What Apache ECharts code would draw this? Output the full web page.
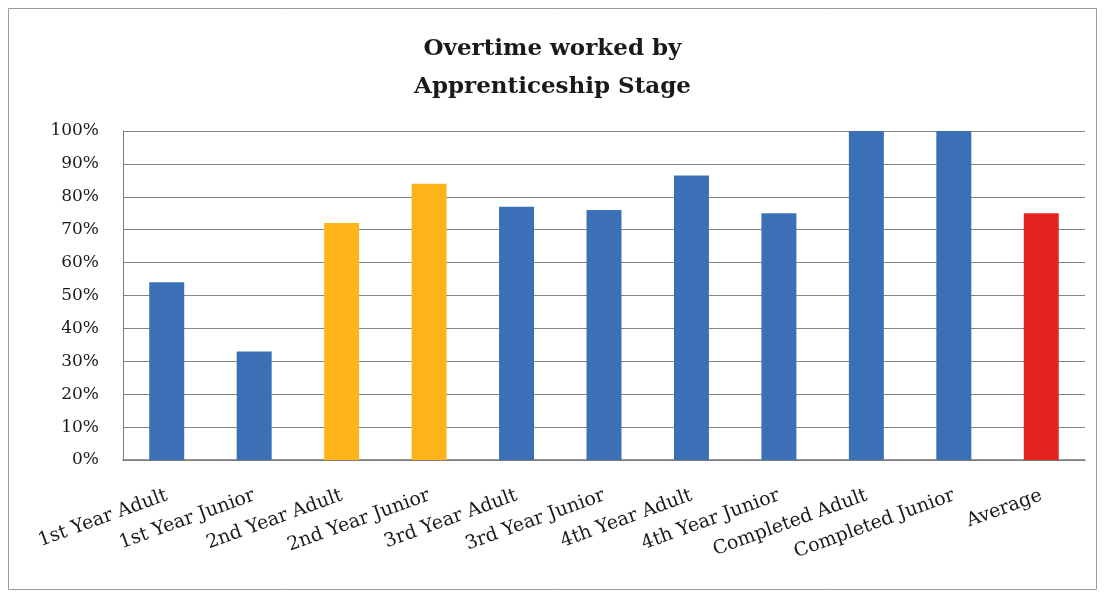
<!DOCTYPE html>
<html>
<head>
<meta charset="utf-8">
<script src="https://cdn.jsdelivr.net/npm/echarts@6/dist/echarts.min.js"></script>
<style>
  html, body { margin: 0; padding: 0; background: #fff; }
  #chart { width: 1105px; height: 593px; }
</style>
</head>
<body>
<div id="chart"></div>
<script>
// Apprenticeship stages shown along the x axis
const stages = [
  '1st Year Adult', '1st Year Junior', '2nd Year Adult', '2nd Year Junior',
  '3rd Year Adult', '3rd Year Junior', '4th Year Adult', '4th Year Junior',
  'Completed Adult', 'Completed Junior', 'Average'
];
// Share of apprentices who worked overtime (%)
const overtimePct = [54, 33, 72, 84, 77, 76, 86.5, 75, 100, 100, 75];
// Bar fill per stage
const barColors = [
  '#3b70b7', '#3b70b7', '#ffb41c', '#ffb41c',
  '#3b70b7', '#3b70b7', '#3b70b7', '#3b70b7',
  '#3b70b7', '#3b70b7', '#e52420'
];

const serif = '"DejaVu Serif", "Liberation Serif", serif';

const chart = echarts.init(document.getElementById('chart'), null, { renderer: 'canvas' });
chart.setOption({
  animation: false,
  backgroundColor: '#ffffff',
  title: {
    text: 'Overtime worked by\nApprenticeship Stage',
    left: 'center',
    top: 25,
    textStyle: {
      fontFamily: serif,
      fontWeight: 'bold',
      fontSize: 23,
      lineHeight: 38,
      color: '#1a1a1a'
    }
  },
  graphic: [{
    type: 'rect',
    shape: { x: 8.5, y: 8.5, width: 1088, height: 581 },
    style: { fill: 'none', stroke: '#9a9a9a', lineWidth: 1 },
    silent: true
  }],
  grid: { left: 123, right: 20, top: 131, bottom: 133 },
  xAxis: {
    type: 'category',
    data: stages,
    axisLine: { show: true, lineStyle: { color: '#7a7a7a', width: 1.5 } },
    axisTick: { show: false },
    axisLabel: {
      rotate: 20,
      margin: 35,
      interval: 0,
      fontFamily: serif,
      fontSize: 19,
      color: '#1a1a1a'
    }
  },
  yAxis: {
    type: 'value',
    min: 0,
    max: 100,
    interval: 10,
    axisLine: { show: true, lineStyle: { color: '#7a7a7a', width: 1 } },
    axisTick: { show: false },
    splitLine: { lineStyle: { color: '#858585', width: 1 } },
    axisLabel: {
      formatter: '{value}%',
      margin: 24,
      fontFamily: serif,
      fontSize: 17,
      color: '#1a1a1a'
    }
  },
  series: [{
    type: 'bar',
    data: overtimePct.map((v, i) => ({ value: v, itemStyle: { color: barColors[i] } })),
    barWidth: '40%'
  }]
});
</script>
</body>
</html>
